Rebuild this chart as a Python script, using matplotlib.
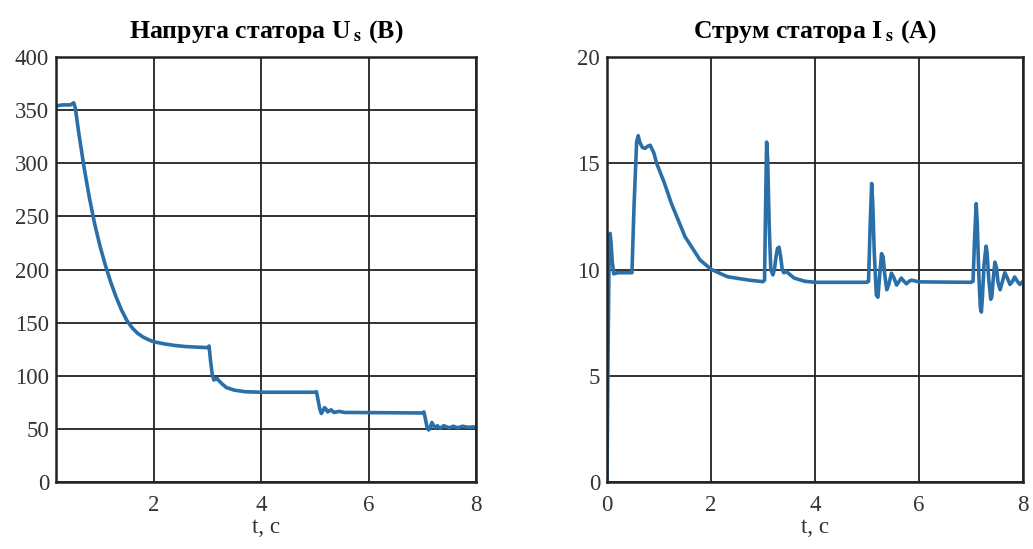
import numpy as np
import matplotlib
matplotlib.use('Agg')
import matplotlib.pyplot as plt

# напруга статора, В
t_u = [0.18, 0.3, 0.45, 0.51, 0.54, 0.6, 0.7, 0.8, 0.9, 1.0, 1.1, 1.2, 1.3, 1.4, 1.5,
       1.6, 1.7, 1.8, 1.9, 2.0, 2.2, 2.4, 2.6, 2.8, 3.0, 3.03, 3.06, 3.09, 3.12, 3.15,
       3.18, 3.22, 3.28, 3.35, 3.5, 3.7, 4.0, 5.0, 5.03, 5.06, 5.09, 5.12, 5.15, 5.18,
       5.21, 5.24, 5.27, 5.3, 5.33, 5.36, 5.45, 5.55, 7.0, 7.03, 7.06, 7.09, 7.12, 7.15,
       7.18, 7.21, 7.24, 7.28, 7.33, 7.4, 7.5, 7.58, 7.66, 7.75, 7.85, 8.0]
u_s = [354, 355, 355, 357, 352, 330, 297, 268, 243, 222, 204, 188, 174, 162, 152,
       145, 140, 136.5, 134, 132, 130, 128.5, 127.5, 127, 126.5, 128, 113, 101, 96, 97,
       97.5, 95, 92, 89, 86.5, 85, 84.5, 84.5, 85, 77, 69, 64.5, 67, 70,
       68.5, 66, 67, 68, 66.5, 65.5, 66.5, 65.5, 65, 66, 59, 51, 49, 52, 56,
       53, 51, 53, 50.5, 53, 51, 52.5, 51, 52.5, 51.5, 52]

# струм статора, А
t_i = [0, 0.02, 0.04, 0.06, 0.08, 0.1, 0.13, 0.2, 0.48, 0.52, 0.57, 0.6, 0.63, 0.68,
       0.73, 0.78, 0.83, 0.9, 0.955, 1.1, 1.24, 1.5, 1.79, 2.01, 2.32, 2.74, 3.0,
       3.03, 3.05, 3.07, 3.09, 3.12, 3.15, 3.19, 3.22, 3.25, 3.28, 3.31, 3.34, 3.37,
       3.4, 3.45, 3.5, 3.6, 3.8, 4.0,
       5.0, 5.03, 5.06, 5.09, 5.11, 5.14, 5.18, 5.21, 5.24, 5.28, 5.31, 5.34, 5.38,
       5.42, 5.47, 5.52, 5.57, 5.62, 5.66, 5.71, 5.76, 5.81, 5.86, 6.0, 7.0,
       7.04, 7.07, 7.1, 7.12, 7.15, 7.18, 7.2, 7.22, 7.25, 7.29, 7.31, 7.34, 7.38,
       7.4, 7.43, 7.46, 7.49, 7.52, 7.56, 7.6, 7.65, 7.7, 7.75, 7.8, 7.84, 7.89,
       7.94, 8.0]
i_s = [0, 6, 10.5, 11.7, 11.2, 10.4, 9.8, 9.85, 9.85, 13, 16.0, 16.3, 16.0, 15.75,
       15.7, 15.8, 15.85, 15.5, 15.0, 14.1, 13.1, 11.55, 10.45, 10.0, 9.66, 9.5, 9.43,
       9.5, 13, 16.0, 15.2, 12, 10.0, 9.75, 10.0, 10.6, 11.0, 11.05, 10.6, 10.0,
       9.85, 9.9, 9.8, 9.6, 9.45, 9.4,
       9.4, 9.45, 12, 14.05, 13.2, 10.8, 8.8, 8.7, 9.6, 10.75, 10.6, 9.8, 9.05,
       9.3, 9.83, 9.6, 9.27, 9.45, 9.6, 9.45, 9.33, 9.45, 9.5, 9.42, 9.4,
       9.45, 11.5, 13.1, 12.2, 9.8, 8.2, 8.0, 8.7, 10.2, 11.1, 10.8, 9.6, 8.6,
       8.7, 9.6, 10.35, 10.1, 9.4, 9.05, 9.4, 9.85, 9.6, 9.3, 9.45, 9.65, 9.45,
       9.3, 9.45]

u_yticks = [0, 50, 100, 150, 200, 250, 300, 350, 400]
u_xticks = [2, 4, 6, 8]
i_yticks = [0, 5, 10, 15, 20]
i_xticks = [0, 2, 4, 6, 8]

plt.rcParams['font.family'] = ['Liberation Serif', 'DejaVu Serif']
plt.rcParams['mathtext.fontset'] = 'stix'

fig = plt.figure(figsize=(10.33, 5.49), dpi=100)
ax1 = fig.add_axes([0.0542, 0.122, 0.4066, 0.774])
ax2 = fig.add_axes([0.5876, 0.122, 0.4027, 0.774])

line_col = '#2a6fa8'

def oformyty(ax, xlim, ylim, xt, yt, title):
    ax.set_xlim(*xlim)
    ax.set_ylim(*ylim)
    ax.set_xticks(xt)
    ax.set_yticks(yt)
    ax.grid(True, color='#222222', linewidth=1.3)
    ax.set_axisbelow(True)
    for s in ax.spines.values():
        s.set_color('#222222')
        s.set_linewidth(1.8)
    ax.tick_params(length=0, labelsize=16.5, colors='#333333')
    ax.tick_params(axis='x', pad=9)
    ax.tick_params(axis='y', pad=5)
    ax.set_xlabel('t, c', fontsize=16.5, color='#333333', labelpad=1)
    ax.set_title(title, fontsize=18.5, fontweight='bold', pad=14)

ax1.plot(t_u, u_s, color=line_col, linewidth=2.6, solid_joinstyle='round')
oformyty(ax1, (0.18, 8), (0, 400), u_xticks, u_yticks,
         r'Напруга статора U$_{\;\mathbf{s}}$ (В)')

ax2.plot(t_i, i_s, color=line_col, linewidth=2.6, solid_joinstyle='round')
oformyty(ax2, (0, 8), (0, 20), i_xticks, i_yticks,
         r'Струм статора I$_{\;\mathbf{s}}$ (А)')

fig.savefig('out.png', dpi=100)
